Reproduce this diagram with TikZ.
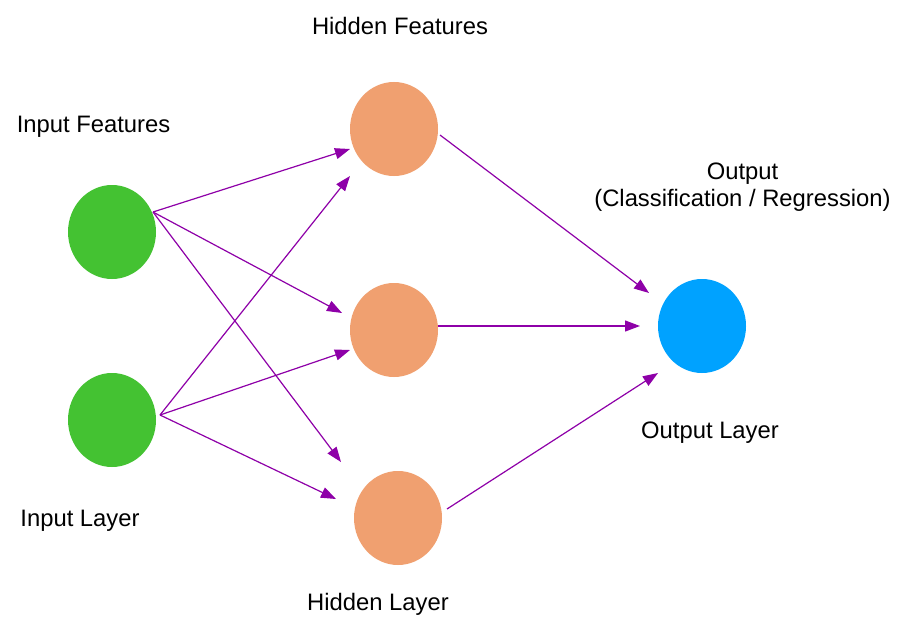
\documentclass[tikz,border=0pt]{standalone}
\usepackage{fontspec}
\setmainfont{Liberation Sans}
\usetikzlibrary{arrows.meta,shapes.geometric}
\definecolor{ingreen}{HTML}{44C232}
\definecolor{hidorange}{HTML}{F0A070}
\definecolor{outblue}{HTML}{00A2FF}
\definecolor{arrowpurple}{HTML}{8E00A8}
\begin{document}
\begin{tikzpicture}[x=1pt,y=-1pt,
  neuron/.style={ellipse, minimum width=88pt, minimum height=94pt, inner sep=0pt},
  conn/.style={draw=arrowpurple, line width=1.2pt, -{Triangle[length=15pt,width=11pt]}},
  lbl/.style={font=\fontsize{23.8}{28}\selectfont, inner sep=0pt, anchor=base}]
\useasboundingbox (0,0) rectangle (904,623);
\fill[white] (0,0) rectangle (904,623);
% neurons
\node[neuron, fill=ingreen] (i1) at (112,232) {};
\node[neuron, fill=ingreen] (i2) at (112,420) {};
\node[neuron, fill=hidorange] (h1) at (394,129) {};
\node[neuron, fill=hidorange] (h2) at (394,330) {};
\node[neuron, fill=hidorange] (h3) at (398,518) {};
\node[neuron, fill=outblue] (o) at (702,326) {};
% connector end points
\coordinate (i1s) at (153,212);
\coordinate (i2s) at (160,415);
\coordinate (h1a) at (350,149);
\coordinate (h1b) at (350,176);
\coordinate (h2a) at (342,313);
\coordinate (h2b) at (350,350);
\coordinate (h3a) at (341,462);
\coordinate (h3b) at (336,499);
\coordinate (h1s) at (440,135);
\coordinate (h2s) at (438,326);
\coordinate (h3s) at (447,509);
\coordinate (oa) at (649,293);
\coordinate (ob) at (640,326);
\coordinate (oc) at (658,373);
% connectors
\draw[conn] (i1s) -- (h1a);
\draw[conn] (i1s) -- (h2a);
\draw[conn] (i1s) -- (h3a);
\draw[conn] (i2s) -- (h1b);
\draw[conn] (i2s) -- (h2b);
\draw[conn] (i2s) -- (h3b);
\draw[conn] (h1s) -- (oa);
\draw[conn] (h2s) -- (ob);
\draw[conn] (h3s) -- (oc);
% labels
\node[lbl] (thf) at (400,35) {Hidden Features};
\node[lbl] (tif) at (93.5,132) {Input Features};
\node[lbl] (tout) at (742.5,179) {Output};
\node[lbl] (tcr) at (742.5,206) {(Classification / Regression)};
\node[lbl] (tol) at (710,438) {Output Layer};
\node[lbl] (til) at (80,526) {Input Layer};
\node[lbl] (thl) at (378,610) {Hidden Layer};
\end{tikzpicture}
\end{document}
